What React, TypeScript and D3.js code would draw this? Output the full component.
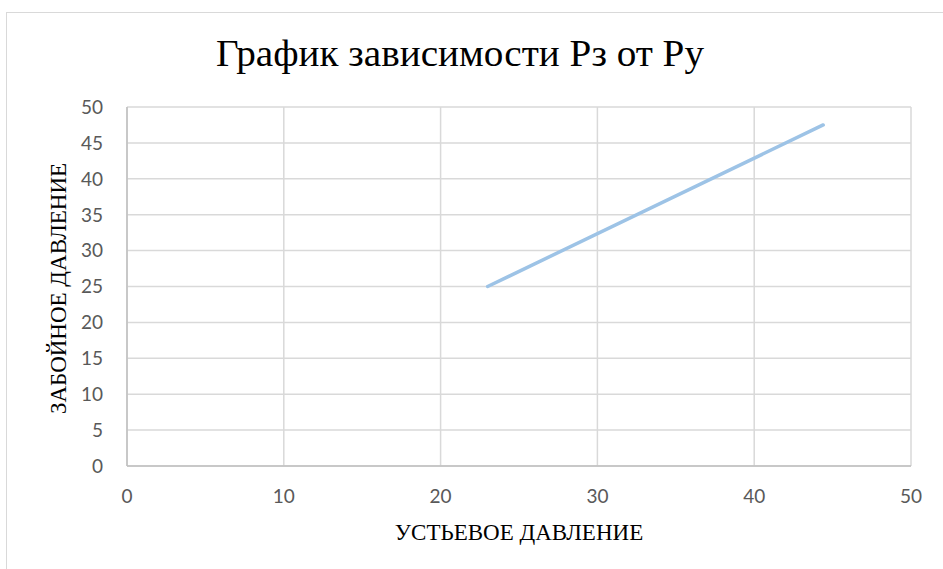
import React from "react";
import * as d3 from "d3";

const title = "График зависимости Рз от Ру";
const xTitle = "УСТЬЕВОЕ ДАВЛЕНИЕ";
const yTitle = "ЗАБОЙНОЕ ДАВЛЕНИЕ";
const xValues = [23.0, 44.4];
const yValues = [25.0, 47.5];
const xTicks = [0, 10, 20, 30, 40, 50];
const yTicks = [0, 5, 10, 15, 20, 25, 30, 35, 40, 45, 50];

const W = 943;
const H = 569;

export default function App() {
  const x = d3.scaleLinear().domain([0, 50]).range([127, 911]);
  const y = d3.scaleLinear().domain([0, 50]).range([466, 107]);
  const pts = xValues.map((v, i) => [v, yValues[i]] as [number, number]);
  const line = d3
    .line<[number, number]>()
    .x((d) => x(d[0]))
    .y((d) => y(d[1]));
  const grid = "#d9d9d9";
  const tickFont = "Lato, 'Open Sans', sans-serif";
  const serif = "'Liberation Serif', 'DejaVu Serif', serif";
  return (
    <svg
      width={W}
      height={H}
      style={{ position: "absolute", left: 0, top: 0, background: "#fff" }}
    >
      <rect x={0} y={0} width={W} height={H} fill="#fff" />
      <rect
        x={6.5}
        y={12.5}
        width={W + 20}
        height={H + 20}
        fill="none"
        stroke="#d9d9d9"
        strokeWidth={1}
      />
      <text
        x={216}
        y={66}
        textAnchor="start"
        fontFamily={serif}
        fontSize={37}
        textLength={488}
        lengthAdjust="spacingAndGlyphs"
        fill="#000"
      >
        {title}
      </text>
      {yTicks.map((t) => (
        <line
          key={"gy" + t}
          x1={x(0)}
          x2={x(50)}
          y1={y(t)}
          y2={y(t)}
          stroke={grid}
          strokeWidth={1.5}
        />
      ))}
      {xTicks.map((t) => (
        <line
          key={"gx" + t}
          x1={x(t)}
          x2={x(t)}
          y1={y(0)}
          y2={y(50)}
          stroke={grid}
          strokeWidth={1.5}
        />
      ))}
      <line x1={x(0)} x2={x(0)} y1={y(0)} y2={y(50)} stroke="#bfbfbf" strokeWidth={1.5} />
      <line x1={x(0)} x2={x(50)} y1={y(0)} y2={y(0)} stroke="#bfbfbf" strokeWidth={1.5} />
      {yTicks.map((t) => (
        <text
          key={"ly" + t}
          x={103}
          y={y(t)}
          dy="0.36em"
          textAnchor="end"
          fontFamily={tickFont}
          fontSize={19}
          fill="#595959"
        >
          {t}
        </text>
      ))}
      {xTicks.map((t) => (
        <text
          key={"lx" + t}
          x={x(t)}
          y={496}
          dy="0.36em"
          textAnchor="middle"
          fontFamily={tickFont}
          fontSize={19}
          fill="#595959"
        >
          {t}
        </text>
      ))}
      <path
        d={line(pts) || ""}
        fill="none"
        stroke="#9dc3e6"
        strokeWidth={3.5}
        strokeLinecap="round"
      />
      <text
        x={519}
        y={540}
        textAnchor="middle"
        fontFamily={serif}
        fontSize={23}
        fill="#000"
      >
        {xTitle}
      </text>
      <text
        transform={`translate(66, ${(y(0) + y(50)) / 2 + 2}) rotate(-90)`}
        textAnchor="middle"
        fontFamily={serif}
        fontSize={23}
        fill="#000"
      >
        {yTitle}
      </text>
    </svg>
  );
}
